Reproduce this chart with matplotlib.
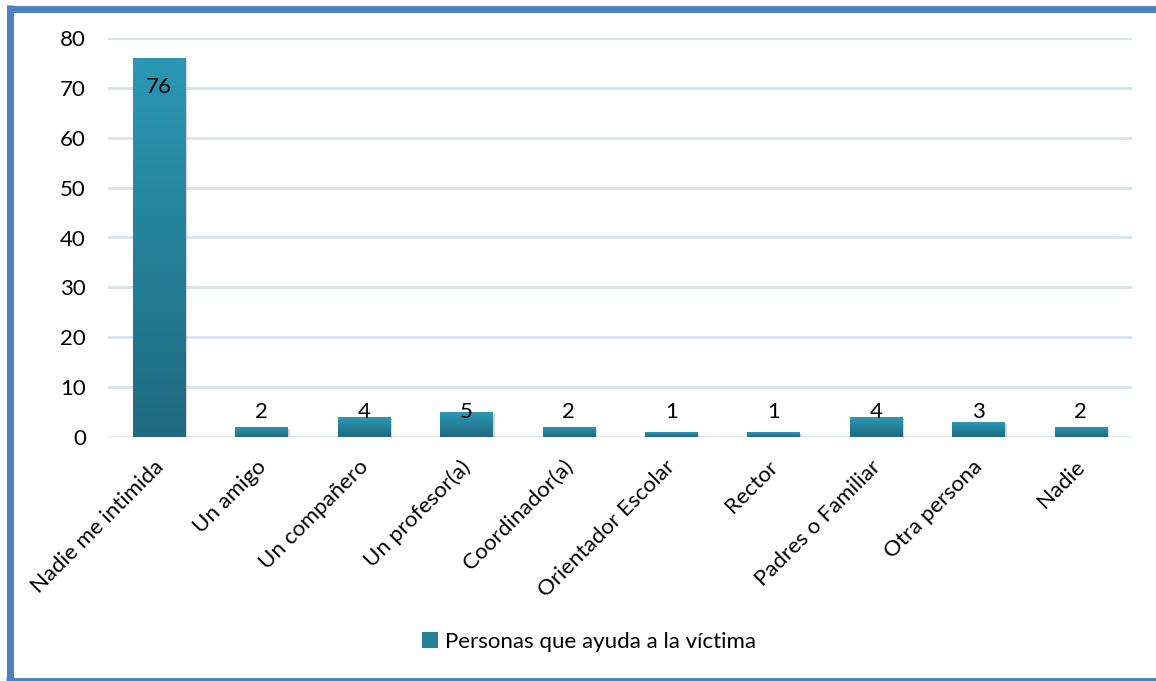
import numpy as np
import matplotlib
matplotlib.use('Agg')
import matplotlib.pyplot as plt
import matplotlib.patheffects as pe
from matplotlib.colors import LinearSegmentedColormap
from matplotlib.lines import Line2D
from matplotlib.patches import Patch
from matplotlib.transforms import ScaledTranslation

# data
categorias = ['Nadie me intimida', 'Un amigo', 'Un compañero', 'Un profesor(a)',
              'Coordinador(a)', 'Orientador Escolar', 'Rector', 'Padres o Familiar',
              'Otra persona', 'Nadie']
valores = [76, 2, 4, 5, 2, 1, 1, 4, 3, 2]
yticks = [0, 10, 20, 30, 40, 50, 60, 70, 80]
serie = 'Personas que ayuda a la víctima'

plt.rcParams['font.family'] = ['Lato', 'DejaVu Sans']
fs = 16

W, H = 1156, 681
fig = plt.figure(figsize=(W/100, H/100), dpi=100)
ax = fig.add_axes([108/W, 1-437/H, (1132-108)/W, (437-38)/H])

top_c = '#2B98B5'
bot_c = '#1F6A7E'
grad = LinearSegmentedColormap.from_list('g', [bot_c, top_c])

x = np.arange(len(categorias))
bars = ax.bar(x, valores, width=0.51, color=top_c, zorder=3,
              path_effects=[pe.SimplePatchShadow(offset=(1.5, -1.5), shadow_rgbFace='#888888', alpha=0.35),
                            pe.Normal()])

# vertical gradient inside each bar
g = np.linspace(0, 1, 256).reshape(-1, 1)
for b in bars:
    x0, w, h = b.get_x(), b.get_width(), b.get_height()
    im = ax.imshow(g, cmap=grad, origin='lower', aspect='auto',
                   extent=[x0, x0 + w, 0, h], zorder=4)
    im.set_clip_path(b)

# value labels
for xi, v in zip(x, valores):
    if v > 40:
        ax.text(xi, v - 5.8, str(v), ha='center', va='center', fontsize=fs, zorder=5)
    else:
        ax.text(xi, 5.0, str(v), ha='center', va='center', fontsize=fs, zorder=5)

ax.set_xlim(-0.5, len(categorias) - 0.5)
ax.set_ylim(0, 80)
ax.set_yticks(yticks)
ax.tick_params(axis='y', length=0, pad=16, labelsize=fs)
ax.tick_params(axis='x', length=0, pad=14, labelsize=fs)
ax.set_xticks(x)
ax.set_xticklabels(categorias, rotation=45, ha='right', rotation_mode='anchor')
for lab in ax.get_xticklabels():
    lab.set_transform(lab.get_transform() + ScaledTranslation(-6/100, 0, fig.dpi_scale_trans))

ax.grid(axis='y', color='#D6E2F3', linewidth=2, zorder=0)
for s in ax.spines.values():
    s.set_visible(False)

fig.legend(handles=[Patch(facecolor='#24809A', edgecolor='none')], labels=[serie],
           loc='center', bbox_to_anchor=(589/W, 1-642/H), frameon=False,
           fontsize=fs, handlelength=0.7, handleheight=0.7, handletextpad=0.3)

# outer frame
blue = '#4F81BD'
lw = 7 * 72 / 100
fig.add_artist(Line2D([9.5/W, 1], [1-8.5/H, 1-8.5/H], color=blue, lw=lw, solid_capstyle='butt'))
fig.add_artist(Line2D([9.5/W, 9.5/W], [1-5/H, 0], color=blue, lw=lw, solid_capstyle='butt'))
fig.add_artist(Line2D([6/W, 1], [1-680.5/H, 1-680.5/H], color=blue, lw=lw, solid_capstyle='butt'))

fig.savefig('out.png', dpi=100)
